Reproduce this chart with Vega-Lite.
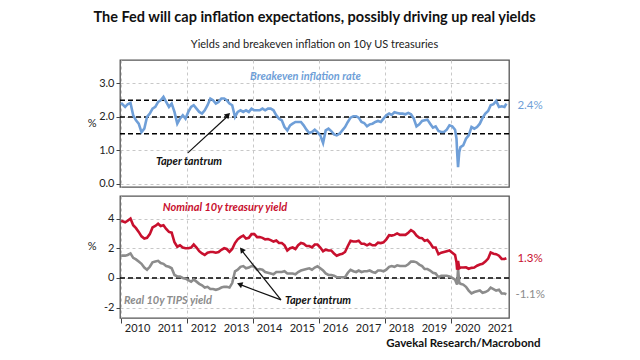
{
  "$schema": "https://vega.github.io/schema/vega-lite/v6.json",
  "background": "white",
  "padding": {"left": 86, "top": 9, "right": 5, "bottom": 5},
  "title": {
    "text": "The Fed will cap inflation expectations, possibly driving up real yields",
    "subtitle": "Yields and breakeven inflation on 10y US treasuries",
    "font": "Lato", "fontSize": 14.5, "fontWeight": "bold", "color": "#111",
    "subtitleFont": "Lato", "subtitleFontSize": 11, "subtitleColor": "#222",
    "subtitlePadding": 14, "anchor": "middle", "frame": "group", "offset": 8
  },
  "config": {
    "font": "Lato",
    "view": {"stroke": "#555", "strokeWidth": 1.3},
    "axis": {
      "labelFont": "Lato", "labelFontSize": 11, "labelColor": "#222",
      "titleFont": "Lato", "titleColor": "#222", "titleFontWeight": "normal",
      "gridColor": "#c8c8c8", "gridDash": [3, 3], "gridWidth": 1,
      "tickColor": "#444", "domain": false, "labelOverlap": false
    }
  },
  "datasets": {
    "series": [
      {"d": "2010-01-01", "be": 2.42, "nom": 3.85, "tips": 1.50},
      {"d": "2010-02-15", "be": 2.30, "nom": 3.75, "tips": 1.50},
      {"d": "2010-03-15", "be": 2.38, "nom": 3.85, "tips": 1.55},
      {"d": "2010-04-15", "be": 2.42, "nom": 4.00, "tips": 1.65},
      {"d": "2010-05-15", "be": 2.05, "nom": 3.55, "tips": 1.35},
      {"d": "2010-06-15", "be": 1.90, "nom": 3.35, "tips": 1.25},
      {"d": "2010-07-15", "be": 1.80, "nom": 3.10, "tips": 1.10},
      {"d": "2010-08-15", "be": 1.55, "nom": 2.80, "tips": 0.95},
      {"d": "2010-09-15", "be": 1.65, "nom": 2.65, "tips": 0.70},
      {"d": "2010-10-15", "be": 2.00, "nom": 2.70, "tips": 0.55},
      {"d": "2010-11-15", "be": 2.10, "nom": 2.95, "tips": 0.75},
      {"d": "2010-12-15", "be": 2.25, "nom": 3.40, "tips": 1.05},
      {"d": "2011-01-15", "be": 2.30, "nom": 3.50, "tips": 1.10},
      {"d": "2011-02-15", "be": 2.45, "nom": 3.65, "tips": 1.15},
      {"d": "2011-03-15", "be": 2.50, "nom": 3.50, "tips": 1.00},
      {"d": "2011-04-15", "be": 2.60, "nom": 3.55, "tips": 0.95},
      {"d": "2011-05-15", "be": 2.45, "nom": 3.30, "tips": 0.80},
      {"d": "2011-06-15", "be": 2.30, "nom": 3.10, "tips": 0.75},
      {"d": "2011-07-15", "be": 2.40, "nom": 3.05, "tips": 0.65},
      {"d": "2011-08-15", "be": 2.15, "nom": 2.40, "tips": 0.20},
      {"d": "2011-09-15", "be": 1.80, "nom": 2.10, "tips": 0.10},
      {"d": "2011-10-15", "be": 1.95, "nom": 2.20, "tips": 0.10},
      {"d": "2011-11-15", "be": 2.05, "nom": 2.05, "tips": 0.00},
      {"d": "2011-12-15", "be": 1.95, "nom": 2.00, "tips": -0.05},
      {"d": "2012-01-15", "be": 2.15, "nom": 2.00, "tips": -0.15},
      {"d": "2012-02-15", "be": 2.30, "nom": 2.05, "tips": -0.25},
      {"d": "2012-03-15", "be": 2.35, "nom": 2.25, "tips": -0.10},
      {"d": "2012-04-15", "be": 2.25, "nom": 2.05, "tips": -0.25},
      {"d": "2012-05-15", "be": 2.15, "nom": 1.80, "tips": -0.40},
      {"d": "2012-06-15", "be": 2.10, "nom": 1.65, "tips": -0.50},
      {"d": "2012-07-15", "be": 2.20, "nom": 1.55, "tips": -0.65},
      {"d": "2012-08-15", "be": 2.35, "nom": 1.70, "tips": -0.60},
      {"d": "2012-09-15", "be": 2.55, "nom": 1.75, "tips": -0.75},
      {"d": "2012-10-15", "be": 2.50, "nom": 1.75, "tips": -0.75},
      {"d": "2012-11-15", "be": 2.40, "nom": 1.70, "tips": -0.80},
      {"d": "2012-12-15", "be": 2.45, "nom": 1.75, "tips": -0.75},
      {"d": "2013-01-15", "be": 2.55, "nom": 1.90, "tips": -0.65},
      {"d": "2013-02-15", "be": 2.55, "nom": 2.00, "tips": -0.60},
      {"d": "2013-03-15", "be": 2.50, "nom": 1.95, "tips": -0.60},
      {"d": "2013-04-15", "be": 2.40, "nom": 1.75, "tips": -0.65},
      {"d": "2013-05-15", "be": 2.35, "nom": 1.95, "tips": -0.35},
      {"d": "2013-06-15", "be": 2.00, "nom": 2.35, "tips": 0.45},
      {"d": "2013-07-15", "be": 2.15, "nom": 2.60, "tips": 0.55},
      {"d": "2013-08-15", "be": 2.20, "nom": 2.75, "tips": 0.75},
      {"d": "2013-09-15", "be": 2.15, "nom": 2.85, "tips": 0.80},
      {"d": "2013-10-15", "be": 2.20, "nom": 2.65, "tips": 0.65},
      {"d": "2013-11-15", "be": 2.15, "nom": 2.70, "tips": 0.70},
      {"d": "2013-12-15", "be": 2.25, "nom": 2.95, "tips": 0.80},
      {"d": "2014-01-15", "be": 2.20, "nom": 2.95, "tips": 0.75},
      {"d": "2014-02-15", "be": 2.20, "nom": 2.75, "tips": 0.55},
      {"d": "2014-03-15", "be": 2.20, "nom": 2.75, "tips": 0.60},
      {"d": "2014-04-15", "be": 2.25, "nom": 2.70, "tips": 0.55},
      {"d": "2014-05-15", "be": 2.20, "nom": 2.60, "tips": 0.40},
      {"d": "2014-06-15", "be": 2.25, "nom": 2.62, "tips": 0.35},
      {"d": "2014-07-15", "be": 2.25, "nom": 2.55, "tips": 0.30},
      {"d": "2014-08-15", "be": 2.20, "nom": 2.45, "tips": 0.25},
      {"d": "2014-09-15", "be": 2.05, "nom": 2.52, "tips": 0.40},
      {"d": "2014-10-15", "be": 1.95, "nom": 2.35, "tips": 0.40},
      {"d": "2014-11-15", "be": 1.90, "nom": 2.35, "tips": 0.40},
      {"d": "2014-12-15", "be": 1.70, "nom": 2.20, "tips": 0.45},
      {"d": "2015-01-15", "be": 1.60, "nom": 1.85, "tips": 0.30},
      {"d": "2015-02-15", "be": 1.75, "nom": 2.00, "tips": 0.30},
      {"d": "2015-03-15", "be": 1.80, "nom": 2.05, "tips": 0.30},
      {"d": "2015-04-15", "be": 1.85, "nom": 1.95, "tips": 0.25},
      {"d": "2015-05-15", "be": 1.85, "nom": 2.20, "tips": 0.40},
      {"d": "2015-06-15", "be": 1.85, "nom": 2.35, "tips": 0.50},
      {"d": "2015-07-15", "be": 1.75, "nom": 2.30, "tips": 0.55},
      {"d": "2015-08-15", "be": 1.62, "nom": 2.15, "tips": 0.60},
      {"d": "2015-09-15", "be": 1.52, "nom": 2.15, "tips": 0.65},
      {"d": "2015-10-15", "be": 1.55, "nom": 2.05, "tips": 0.55},
      {"d": "2015-11-15", "be": 1.62, "nom": 2.25, "tips": 0.70},
      {"d": "2015-12-15", "be": 1.55, "nom": 2.25, "tips": 0.78},
      {"d": "2016-01-15", "be": 1.45, "nom": 2.05, "tips": 0.65},
      {"d": "2016-02-15", "be": 1.22, "nom": 1.80, "tips": 0.50},
      {"d": "2016-03-15", "be": 1.60, "nom": 1.90, "tips": 0.30},
      {"d": "2016-04-15", "be": 1.65, "nom": 1.85, "tips": 0.20},
      {"d": "2016-05-15", "be": 1.58, "nom": 1.85, "tips": 0.20},
      {"d": "2016-06-15", "be": 1.48, "nom": 1.65, "tips": 0.15},
      {"d": "2016-07-15", "be": 1.45, "nom": 1.50, "tips": 0.05},
      {"d": "2016-08-15", "be": 1.50, "nom": 1.58, "tips": 0.05},
      {"d": "2016-09-15", "be": 1.60, "nom": 1.62, "tips": 0.05},
      {"d": "2016-10-15", "be": 1.70, "nom": 1.75, "tips": 0.05},
      {"d": "2016-11-15", "be": 1.85, "nom": 2.15, "tips": 0.35},
      {"d": "2016-12-15", "be": 1.98, "nom": 2.50, "tips": 0.55},
      {"d": "2017-01-15", "be": 2.02, "nom": 2.45, "tips": 0.45},
      {"d": "2017-02-15", "be": 2.02, "nom": 2.45, "tips": 0.40},
      {"d": "2017-03-15", "be": 1.98, "nom": 2.50, "tips": 0.50},
      {"d": "2017-04-15", "be": 1.85, "nom": 2.30, "tips": 0.40},
      {"d": "2017-05-15", "be": 1.82, "nom": 2.30, "tips": 0.45},
      {"d": "2017-06-15", "be": 1.72, "nom": 2.20, "tips": 0.45},
      {"d": "2017-07-15", "be": 1.78, "nom": 2.30, "tips": 0.50},
      {"d": "2017-08-15", "be": 1.80, "nom": 2.20, "tips": 0.40},
      {"d": "2017-09-15", "be": 1.85, "nom": 2.20, "tips": 0.35},
      {"d": "2017-10-15", "be": 1.88, "nom": 2.38, "tips": 0.50},
      {"d": "2017-11-15", "be": 1.85, "nom": 2.35, "tips": 0.50},
      {"d": "2017-12-15", "be": 1.95, "nom": 2.40, "tips": 0.45},
      {"d": "2018-01-15", "be": 2.05, "nom": 2.60, "tips": 0.55},
      {"d": "2018-02-15", "be": 2.10, "nom": 2.88, "tips": 0.75},
      {"d": "2018-03-15", "be": 2.06, "nom": 2.85, "tips": 0.80},
      {"d": "2018-04-15", "be": 2.14, "nom": 2.90, "tips": 0.75},
      {"d": "2018-05-15", "be": 2.12, "nom": 3.00, "tips": 0.85},
      {"d": "2018-06-15", "be": 2.10, "nom": 2.90, "tips": 0.80},
      {"d": "2018-07-15", "be": 2.10, "nom": 2.90, "tips": 0.80},
      {"d": "2018-08-15", "be": 2.08, "nom": 2.90, "tips": 0.80},
      {"d": "2018-09-15", "be": 2.12, "nom": 3.05, "tips": 0.92},
      {"d": "2018-10-15", "be": 2.08, "nom": 3.22, "tips": 1.10},
      {"d": "2018-11-15", "be": 1.95, "nom": 3.10, "tips": 1.10},
      {"d": "2018-12-15", "be": 1.72, "nom": 2.85, "tips": 1.05},
      {"d": "2019-01-15", "be": 1.78, "nom": 2.70, "tips": 0.90},
      {"d": "2019-02-15", "be": 1.88, "nom": 2.68, "tips": 0.80},
      {"d": "2019-03-15", "be": 1.90, "nom": 2.50, "tips": 0.60},
      {"d": "2019-04-15", "be": 1.92, "nom": 2.55, "tips": 0.60},
      {"d": "2019-05-15", "be": 1.80, "nom": 2.35, "tips": 0.50},
      {"d": "2019-06-15", "be": 1.68, "nom": 2.05, "tips": 0.35},
      {"d": "2019-07-15", "be": 1.72, "nom": 2.05, "tips": 0.30},
      {"d": "2019-08-15", "be": 1.58, "nom": 1.60, "tips": 0.05},
      {"d": "2019-09-15", "be": 1.55, "nom": 1.70, "tips": 0.15},
      {"d": "2019-10-15", "be": 1.55, "nom": 1.75, "tips": 0.15},
      {"d": "2019-11-15", "be": 1.62, "nom": 1.80, "tips": 0.15},
      {"d": "2019-12-15", "be": 1.75, "nom": 1.85, "tips": 0.10},
      {"d": "2020-01-15", "be": 1.72, "nom": 1.70, "tips": 0.00},
      {"d": "2020-02-15", "be": 1.62, "nom": 1.55, "tips": -0.12},
      {"d": "2020-03-02", "be": 1.35, "nom": 1.05, "tips": -0.35},
      {"d": "2020-03-09", "be": 0.95, "nom": 0.55, "tips": -0.45},
      {"d": "2020-03-19", "be": 0.50, "nom": 1.15, "tips": 0.62},
      {"d": "2020-04-01", "be": 0.95, "nom": 0.65, "tips": -0.30},
      {"d": "2020-04-15", "be": 1.10, "nom": 0.70, "tips": -0.40},
      {"d": "2020-05-15", "be": 1.15, "nom": 0.70, "tips": -0.45},
      {"d": "2020-06-15", "be": 1.35, "nom": 0.72, "tips": -0.60},
      {"d": "2020-07-15", "be": 1.45, "nom": 0.62, "tips": -0.85},
      {"d": "2020-08-15", "be": 1.70, "nom": 0.68, "tips": -1.05},
      {"d": "2020-09-15", "be": 1.65, "nom": 0.70, "tips": -0.95},
      {"d": "2020-10-15", "be": 1.70, "nom": 0.82, "tips": -0.90},
      {"d": "2020-11-15", "be": 1.80, "nom": 0.90, "tips": -0.85},
      {"d": "2020-12-15", "be": 1.97, "nom": 0.95, "tips": -1.00},
      {"d": "2021-01-15", "be": 2.10, "nom": 1.10, "tips": -0.95},
      {"d": "2021-02-15", "be": 2.18, "nom": 1.30, "tips": -0.85},
      {"d": "2021-03-15", "be": 2.35, "nom": 1.72, "tips": -0.65},
      {"d": "2021-04-15", "be": 2.38, "nom": 1.63, "tips": -0.75},
      {"d": "2021-05-15", "be": 2.48, "nom": 1.60, "tips": -0.85},
      {"d": "2021-06-15", "be": 2.30, "nom": 1.50, "tips": -0.80},
      {"d": "2021-07-15", "be": 2.32, "nom": 1.28, "tips": -1.05},
      {"d": "2021-08-15", "be": 2.30, "nom": 1.28, "tips": -1.05},
      {"d": "2021-09-05", "be": 2.40, "nom": 1.33, "tips": -1.10}
    ],
    "years": [
      {"d": "2010-07-02", "t": "2010"},
      {"d": "2011-07-02", "t": "2011"},
      {"d": "2012-07-02", "t": "2012"},
      {"d": "2013-07-02", "t": "2013"},
      {"d": "2014-07-02", "t": "2014"},
      {"d": "2015-07-02", "t": "2015"},
      {"d": "2016-07-02", "t": "2016"},
      {"d": "2017-07-02", "t": "2017"},
      {"d": "2018-07-02", "t": "2018"},
      {"d": "2019-07-02", "t": "2019"},
      {"d": "2020-07-02", "t": "2020"},
      {"d": "2021-07-02", "t": "2021"}
    ]
  },
  "spacing": 5,
  "vconcat": [
    {
      "width": 389,
      "height": 127,
      "layer": [
        {
          "data": {"values": [{"y": 1.5}, {"y": 2.0}, {"y": 2.5}]},
          "mark": {"type": "rule", "color": "#000", "strokeDash": [5, 3], "strokeWidth": 1.5},
          "encoding": {"y": {"field": "y", "type": "quantitative"}}
        },
        {
          "data": {"name": "series"},
          "mark": {"type": "line", "color": "#6f9fd8", "strokeWidth": 2.6},
          "encoding": {
            "x": {
              "field": "d", "type": "temporal",
              "scale": {"domain": [1261267200000, 1633305600000]},
              "axis": {
                "title": null, "labels": false, "ticks": false, "grid": true,
                "values": [1262304000000, 1293840000000, 1325376000000, 1356998400000, 1388534400000, 1420070400000, 1451606400000, 1483228800000, 1514764800000, 1546300800000, 1577836800000, 1609459200000]
              }
            },
            "y": {
              "field": "be", "type": "quantitative",
              "scale": {"domain": [-0.09, 3.7], "nice": false, "zero": false},
              "axis": {
                "title": "%", "titleAngle": 0, "titleAlign": "right", "titleBaseline": "middle",
                "titleX": -24, "titleY": 63, "titleFontSize": 11,
                "values": [0, 0.5, 1, 1.5, 2, 2.5, 3, 3.5],
                "labelExpr": "datum.value % 1 === 0 ? format(datum.value, '.1f') : ''",
                "tickSize": 4, "labelPadding": 2
              }
            }
          }
        },
        {
          "data": {"values": [{"d": "2013-11-28", "v": 3.19, "t": "Breakeven inflation rate"}]},
          "mark": {"type": "text", "align": "left", "baseline": "middle", "font": "Lato", "fontSize": 11, "fontStyle": "italic", "fontWeight": "bold", "color": "#6f9fd8"},
          "encoding": {"x": {"field": "d", "type": "temporal"}, "y": {"field": "v", "type": "quantitative"}, "text": {"field": "t"}}
        },
        {
          "data": {"values": [{"d": "2011-01-22", "v": 0.66, "t": "Taper tantrum"}]},
          "mark": {"type": "text", "align": "left", "baseline": "middle", "font": "Lato", "fontSize": 11, "fontStyle": "italic", "fontWeight": "bold", "color": "#111"},
          "encoding": {"x": {"field": "d", "type": "temporal"}, "y": {"field": "v", "type": "quantitative"}, "text": {"field": "t"}}
        },
        {
          "data": {"values": [{"d": "2021-09-05", "v": 2.33, "t": "2.4%"}]},
          "mark": {"type": "text", "align": "left", "baseline": "middle", "dx": 11, "font": "Lato", "fontSize": 11.5, "color": "#6f9fd8"},
          "encoding": {"x": {"field": "d", "type": "temporal"}, "y": {"field": "v", "type": "quantitative"}, "text": {"field": "t"}}
        },
        {
          "data": {"values": [{"d": "2012-01-10", "v": 0.93, "d2": "2013-03-25", "v2": 2.02}]},
          "mark": {"type": "rule", "color": "#111", "strokeWidth": 1.2},
          "encoding": {"x": {"field": "d", "type": "temporal"}, "y": {"field": "v", "type": "quantitative"}, "x2": {"field": "d2"}, "y2": {"field": "v2"}}
        },
        {
          "data": {"values": [{"d": "2013-03-30", "v": 2.06}]},
          "mark": {"type": "point", "shape": "triangle-up", "filled": true, "color": "#111", "opacity": 1, "size": 40, "angle": 45.7},
          "encoding": {"x": {"field": "d", "type": "temporal"}, "y": {"field": "v", "type": "quantitative"}}
        }
      ]
    },
    {
      "width": 389,
      "height": 122,
      "layer": [
        {
          "data": {"values": [{"y": 0}]},
          "mark": {"type": "rule", "color": "#000", "strokeDash": [5, 3], "strokeWidth": 1.5},
          "encoding": {"y": {"field": "y", "type": "quantitative"}}
        },
        {
          "data": {"name": "series"},
          "mark": {"type": "line", "color": "#8c8c8c", "strokeWidth": 2.6},
          "encoding": {
            "x": {
              "field": "d", "type": "temporal",
              "scale": {"domain": [1261267200000, 1633305600000]},
              "axis": {
                "title": "Gavekal Research/Macrobond", "titleFontWeight": "bold", "titleFontSize": 11.5, "titleColor": "#111",
                "titleAlign": "right", "titleX": 420, "titlePadding": 14,
                "labels": false,
                "tickSize": 5, "grid": true,
                "values": [1262304000000, 1293840000000, 1325376000000, 1356998400000, 1388534400000, 1420070400000, 1451606400000, 1483228800000, 1514764800000, 1546300800000, 1577836800000, 1609459200000]
              }
            },
            "y": {
              "field": "tips", "type": "quantitative",
              "scale": {"domain": [-2.7, 5.52], "nice": false, "zero": false},
              "axis": {
                "title": "%", "titleAngle": 0, "titleAlign": "right", "titleBaseline": "middle",
                "titleX": -24, "titleY": 50, "titleFontSize": 11,
                "values": [-2, -1, 0, 1, 2, 3, 4, 5],
                "labelExpr": "datum.value % 2 === 0 ? '' + datum.value : ''",
                "tickSize": 4, "labelPadding": 2
              }
            }
          }
        },
        {
          "data": {"name": "series"},
          "mark": {"type": "line", "color": "#c8102e", "strokeWidth": 2.6},
          "encoding": {
            "x": {"field": "d", "type": "temporal"},
            "y": {"field": "nom", "type": "quantitative"}
          }
        },
        {
          "data": {"name": "years"},
          "mark": {"type": "text", "align": "center", "baseline": "middle", "dy": 11, "font": "Lato", "fontSize": 11, "color": "#222"},
          "encoding": {"x": {"field": "d", "type": "temporal"}, "y": {"datum": -2.7}, "text": {"field": "t"}}
        },
        {
          "data": {"values": [{"d": "2011-04-08", "v": 4.71, "t": "Nominal 10y treasury yield"}]},
          "mark": {"type": "text", "align": "left", "baseline": "middle", "font": "Lato", "fontSize": 11, "fontStyle": "italic", "fontWeight": "bold", "color": "#c8102e"},
          "encoding": {"x": {"field": "d", "type": "temporal"}, "y": {"field": "v", "type": "quantitative"}, "text": {"field": "t"}}
        },
        {
          "data": {"values": [{"d": "2010-02-03", "v": -1.55, "t": "Real 10y TIPS yield"}]},
          "mark": {"type": "text", "align": "left", "baseline": "middle", "font": "Lato", "fontSize": 11, "fontStyle": "italic", "fontWeight": "bold", "color": "#8c8c8c"},
          "encoding": {"x": {"field": "d", "type": "temporal"}, "y": {"field": "v", "type": "quantitative"}, "text": {"field": "t"}}
        },
        {
          "data": {"values": [{"d": "2014-12-20", "v": -1.55, "t": "Taper tantrum"}]},
          "mark": {"type": "text", "align": "left", "baseline": "middle", "font": "Lato", "fontSize": 11, "fontStyle": "italic", "fontWeight": "bold", "color": "#111"},
          "encoding": {"x": {"field": "d", "type": "temporal"}, "y": {"field": "v", "type": "quantitative"}, "text": {"field": "t"}}
        },
        {
          "data": {"values": [{"d": "2021-09-05", "v": 1.28, "t": "1.3%"}]},
          "mark": {"type": "text", "align": "left", "baseline": "middle", "dx": 11, "font": "Lato", "fontSize": 11.5, "color": "#c8102e"},
          "encoding": {"x": {"field": "d", "type": "temporal"}, "y": {"field": "v", "type": "quantitative"}, "text": {"field": "t"}}
        },
        {
          "data": {"values": [{"d": "2021-09-05", "v": -1.14, "t": "-1.1%"}]},
          "mark": {"type": "text", "align": "left", "baseline": "middle", "dx": 9, "font": "Lato", "fontSize": 11.5, "color": "#8c8c8c"},
          "encoding": {"x": {"field": "d", "type": "temporal"}, "y": {"field": "v", "type": "quantitative"}, "text": {"field": "t"}}
        },
        {
          "data": {"values": [
            {"d": "2014-11-06", "v": -1.48, "d2": "2013-09-10", "v2": 1.75},
            {"d": "2014-11-06", "v": -1.48, "d2": "2013-08-20", "v2": -0.47}
          ]},
          "mark": {"type": "rule", "color": "#111", "strokeWidth": 1.2},
          "encoding": {"x": {"field": "d", "type": "temporal"}, "y": {"field": "v", "type": "quantitative"}, "x2": {"field": "d2"}, "y2": {"field": "v2"}}
        },
        {
          "data": {"values": [{"d": "2013-08-28", "v": 1.9}]},
          "mark": {"type": "point", "shape": "triangle-up", "filled": true, "color": "#111", "opacity": 1, "size": 40, "angle": -37.6},
          "encoding": {"x": {"field": "d", "type": "temporal"}, "y": {"field": "v", "type": "quantitative"}}
        },
        {
          "data": {"values": [{"d": "2013-08-05", "v": -0.43}]},
          "mark": {"type": "point", "shape": "triangle-up", "filled": true, "color": "#111", "opacity": 1, "size": 40, "angle": -69.1},
          "encoding": {"x": {"field": "d", "type": "temporal"}, "y": {"field": "v", "type": "quantitative"}}
        }
      ]
    }
  ]
}
